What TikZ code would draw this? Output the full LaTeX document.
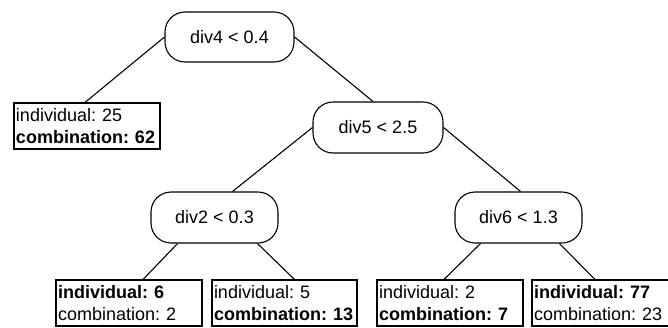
\documentclass[tikz,border=0pt]{standalone}
\usepackage{fontspec}
\setmainfont{Liberation Sans}
\usetikzlibrary{shapes,arrows}

\begin{document}
\begin{tikzpicture}[x=1pt, y=-1pt, every node/.style={draw, line width=1.1pt, inner sep=3pt, font=\fontsize{18}{22.5}\selectfont\frenchspacing}]

% Define styles
\tikzstyle{split} = [rectangle, rounded corners=20pt, fill=white, draw=black, minimum width=129pt, minimum height=50pt]
\tikzstyle{leaf} = [rectangle, fill=white, draw=black, minimum height=46pt, inner xsep=2pt, text width=142pt, align=left]
\tikzstyle{edge} = [line width=1.1pt]

\useasboundingbox (0,0) rectangle (668,327);

% Nodes
\node[split] (root) at (229.5,37) {div4 < 0.4};
\node[leaf] (leaf1) at (87,126) {individual: 25\\\textbf{combination: 62}};
\node[split, minimum width=130pt, minimum height=51pt] (div5) at (378,127.5) {div5 < 2.5};

\node[split, minimum width=127pt, minimum height=51pt] (div2) at (214.5,217.5) {div2 < 0.3};
\node[split, minimum width=127pt, minimum height=51pt] (div6) at (518.5,217.5) {div6 < 1.3};

\node[leaf] (leaf6) at (129,303) {\textbf{individual: 6}\\combination: 2};
\node[leaf, text width=141pt] (leaf5) at (284.5,303) {individual: 5\\\textbf{combination: 13}};
\node[leaf] (leaf2) at (450,303) {individual: 2\\\textbf{combination: 7}};
\node[leaf] (leaf77) at (605,303) {\textbf{individual: 77}\\combination: 23};

% Edges
\draw[edge] (root.west) -- ([xshift=-2pt]leaf1.north);
\draw[edge] (root.east) -- ([xshift=-5pt]div5.north);
\draw[edge] (div5.west) -- ([xshift=18pt]div2.north);
\draw[edge] (div5.east) -- ([xshift=2pt]div6.north);
\draw[edge] ([xshift=-37pt]div2.south) -- ([xshift=14pt]leaf6.north);
\draw[edge] ([xshift=43pt]div2.south) -- ([xshift=10pt]leaf5.north);
\draw[edge] ([xshift=-38pt]div6.south) -- ([xshift=-6pt]leaf2.north);
\draw[edge] ([xshift=41pt]div6.south) -- ([xshift=-10pt]leaf77.north);

\end{tikzpicture}
\end{document}
